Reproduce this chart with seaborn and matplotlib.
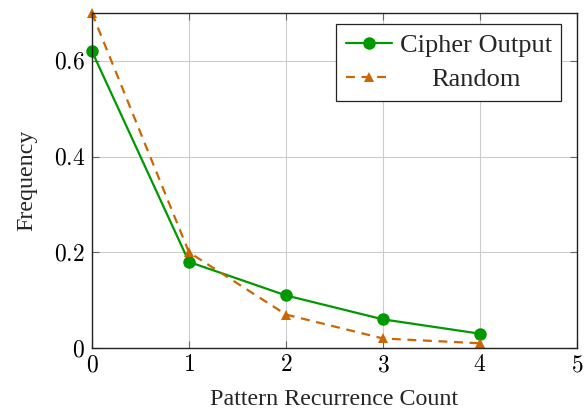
import matplotlib
matplotlib.use("Agg")
import matplotlib.pyplot as plt
import pandas as pd
import seaborn as sns

# datos
counts = [0, 1, 2, 3, 4]
cipher_freq = [0.62, 0.18, 0.11, 0.06, 0.03]
random_freq = [0.70, 0.20, 0.07, 0.02, 0.01]
x_ticks = [0, 1, 2, 3, 4, 5]
y_ticks = [0, 0.2, 0.4, 0.6]
y_tick_labels = ["0", "0.2", "0.4", "0.6"]

df = pd.DataFrame({
    "count": counts * 2,
    "freq": cipher_freq + random_freq,
    "serie": ["Cipher Output"] * len(counts) + ["Random"] * len(counts),
})

sns.set_style("whitegrid")
plt.rcParams['font.family'] = ['Liberation Serif', 'DejaVu Serif']
plt.rcParams['mathtext.fontset'] = 'cm'

fig = plt.figure(figsize=(5.84, 4.09), dpi=100)
ax = fig.add_axes([0.1575, 0.149, 0.8305, 0.819])

green = "#009900"
orange = "#cc6600"

sns.lineplot(data=df[df.serie == "Cipher Output"], x="count", y="freq", ax=ax,
             color=green, marker="o", markersize=9, markeredgewidth=0,
             linewidth=1.6, label="Cipher Output")
sns.lineplot(data=df[df.serie == "Random"], x="count", y="freq", ax=ax,
             color=orange, marker="^", markersize=7.5, markeredgewidth=0,
             linewidth=1.6, linestyle=(0, (4, 3)), label="Random")

ax.set_xlim(0, 5)
ax.set_ylim(0, 0.7)
ax.set_xticks(x_ticks)
ax.set_xticklabels([f"${t}$" for t in x_ticks])
ax.set_yticks(y_ticks)
ax.set_yticklabels([f"${t}$" for t in y_tick_labels])
ax.set_xlabel("Pattern Recurrence Count", fontsize=17.3, labelpad=9)
ax.set_ylabel("Frequency", fontsize=17.3, labelpad=12)
ax.tick_params(axis="both", labelsize=17, direction="in", length=5, color="#666666",
               labelcolor="black", top=True, right=True, bottom=True, left=True, pad=5)
ax.grid(True, color="#cccccc", linewidth=0.8)
for sp in ax.spines.values():
    sp.set_color("#222222")
    sp.set_linewidth(1.0)
for ln in ax.lines:
    ln.set_clip_on(False)

leg = ax.legend(loc="upper right", fontsize=19, frameon=True, fancybox=False,
                edgecolor="#222222", framealpha=1, bbox_to_anchor=(0.967, 0.967),
                borderaxespad=0, handlelength=1.75, handletextpad=0.3,
                borderpad=0.35, labelspacing=0.42)
leg.get_frame().set_linewidth(0.9)

# centrar "Random" como en pgfplots
fig.canvas.draw()
txts = leg.get_texts()
w0 = txts[0].get_window_extent().width
w1 = txts[1].get_window_extent().width
txts[1].set_position(((w0 - w1) / 2, 0))

fig.savefig("out.png", dpi=100)
